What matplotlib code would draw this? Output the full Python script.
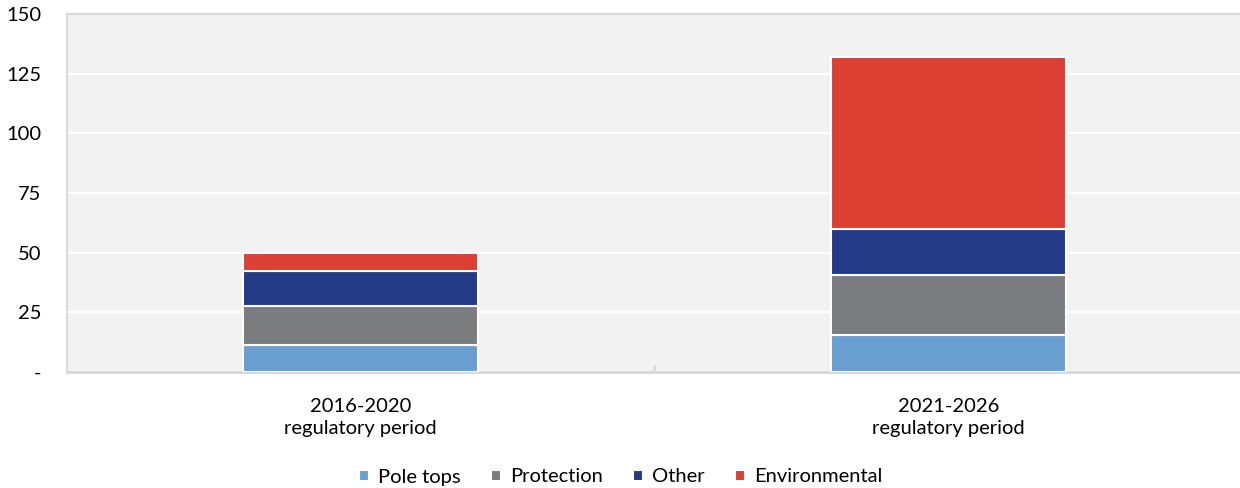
import matplotlib.pyplot as plt
import numpy as np

plt.rcParams['font.family'] = ['Lato', 'DejaVu Sans']

periods = ["2016-2020\nregulatory period", "2021-2026\nregulatory period"]
series_names = ["Pole tops", "Protection", "Other", "Environmental"]
pole_tops = [11.5, 15.5]
protection = [16.0, 25.0]
other = [15.0, 19.5]
environmental = [7.5, 72.0]
colors = ["#689FD0", "#7B7C80", "#233B87", "#DB4033"]
yticks = [0, 25, 50, 75, 100, 125, 150]
ytick_labels = ["-", "25", "50", "75", "100", "125", "150"]

fig = plt.figure(figsize=(12.4, 4.88), dpi=100)
ax = fig.add_axes([66.5 / 1240, 1 - 372 / 488, (1242.5 - 66.5) / 1240, (372 - 14) / 488])
ax.set_facecolor("#F2F2F2")

x = np.arange(len(periods))
bottom = np.zeros(len(periods))
for name, vals, col in zip(series_names, [pole_tops, protection, other, environmental], colors):
    ax.bar(x, vals, width=0.4, bottom=bottom, color=col, edgecolor="white",
           linewidth=1.5, label=name, zorder=3)
    bottom += np.array(vals)

ax.set_xlim(-0.5, 1.5)
ax.set_ylim(0, 150)
ax.set_yticks(yticks)
ax.set_yticklabels(ytick_labels, fontsize=14.5)
ax.yaxis.grid(True, color="white", linewidth=1.5, zorder=1)
ax.set_axisbelow(True)
ax.tick_params(axis="y", length=0, pad=18)
for lbl in ax.get_yticklabels():
    lbl.set_horizontalalignment("right")

ax.set_xticks(x)
ax.set_xticklabels(periods, fontsize=14.5, linespacing=1.3)
ax.set_xticks([0.5], minor=True)
ax.tick_params(axis="x", which="major", length=0, pad=19)
ax.tick_params(axis="x", which="minor", length=5, direction="in", color="#D9D9D9", width=1.5)

for side in ["left", "top"]:
    ax.spines[side].set_color("#DADADA")
    ax.spines[side].set_linewidth(1.5)
ax.spines["right"].set_visible(False)
ax.spines["bottom"].set_color("#D6D6D6")
ax.spines["bottom"].set_linewidth(2)

leg = fig.legend(loc="center", bbox_to_anchor=(621 / 1240, 1 - 477 / 488), ncol=4,
                 frameon=False, fontsize=14.5, handlelength=0.5, handleheight=0.5,
                 handletextpad=0.45, columnspacing=1.5)

fig.savefig("out.png", dpi=100, facecolor="white")
